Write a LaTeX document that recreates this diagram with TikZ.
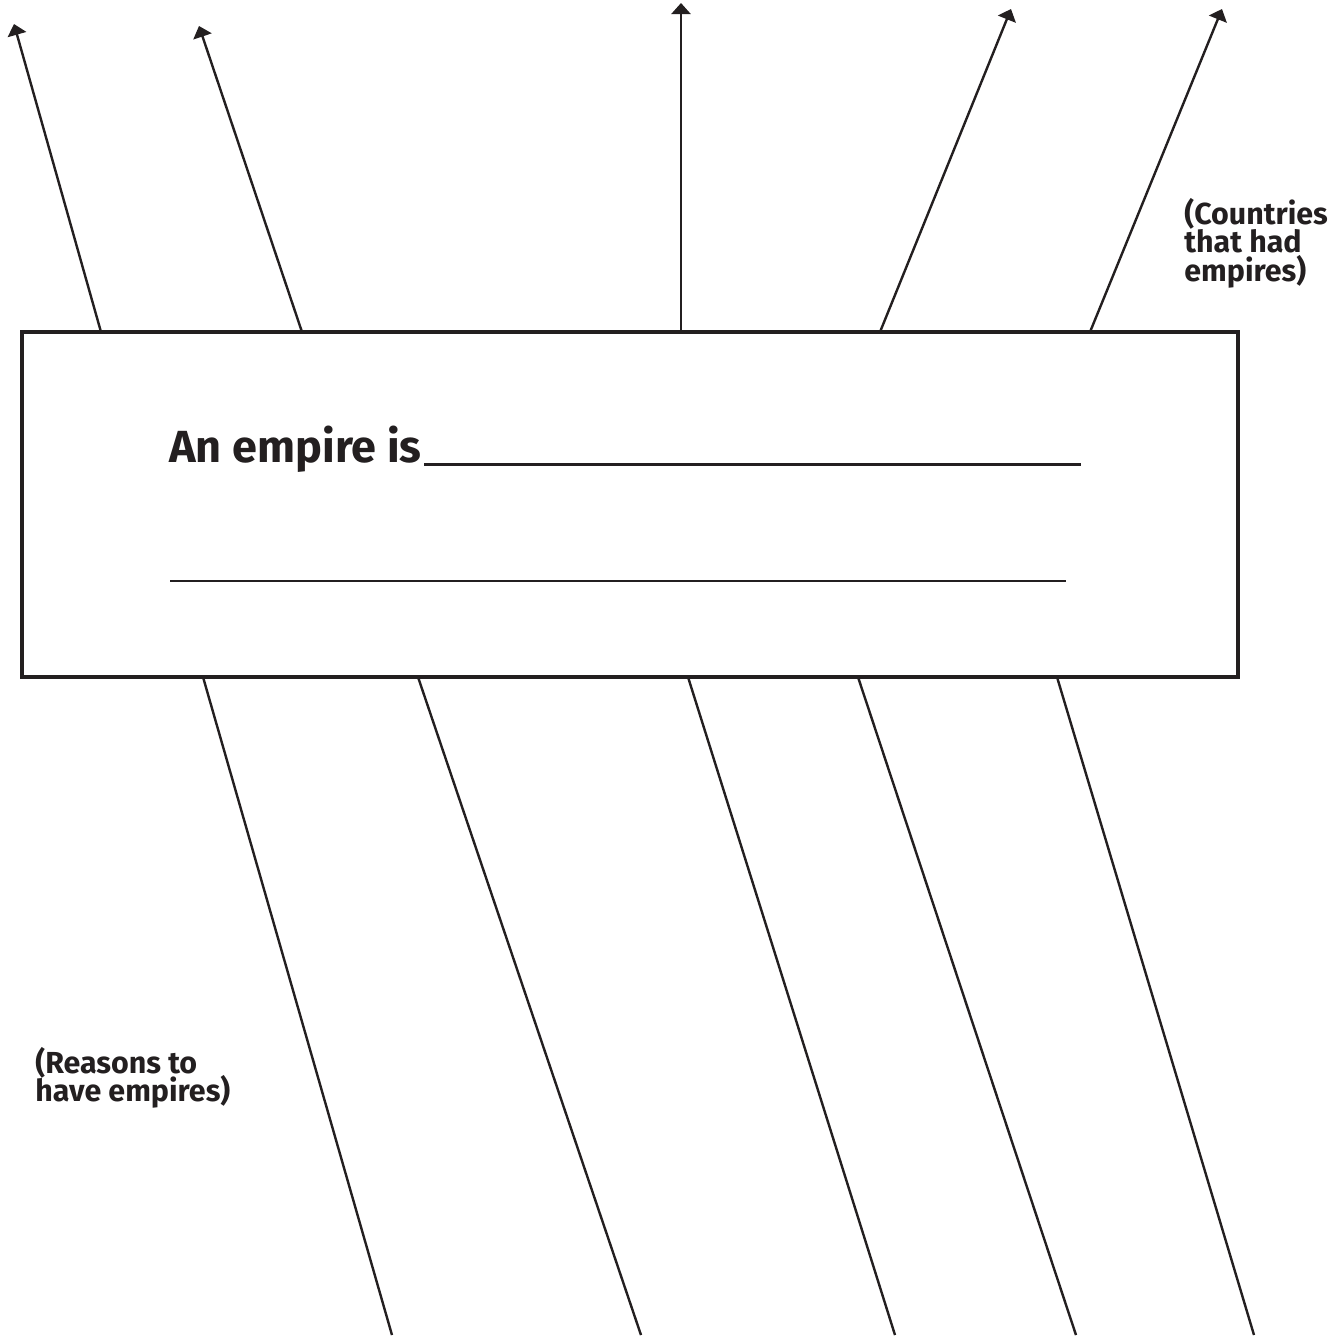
\documentclass[tikz,border=0pt]{standalone}
\usepackage{fontspec}
\setmainfont{Fira Sans}
\usetikzlibrary{arrows.meta}
\definecolor{ink}{HTML}{231F20}
\newcommand\labelfont{\bfseries\fontsize{15.2}{14.2}\selectfont\lineskiplimit=-100pt\relax}

\begin{document}
\begin{tikzpicture}[x=0.5pt,y=-0.5pt]
        \tikzset{
            frame/.style={draw=ink, line width=1.6pt, minimum width=608pt, minimum height=172.5pt, inner sep=0pt},
            c1/.style={-{Triangle[length=5.5pt,width=9.5pt]}, line width=1.2pt, ink},
            c2/.style={-, line width=1.2pt, ink},
            blank/.style={-, line width=1.2pt, ink},
            lbl/.style={align=left, anchor=north west, inner sep=0pt, text=ink, font=\labelfont}
            }
            \useasboundingbox (0,0) rectangle (1340,1335);

            \node[frame] (box) at (630,504.5) {};
            \node[anchor=base west, inner sep=0pt, text=ink, font=\bfseries\fontsize{22.5}{27}\selectfont] (def) at (169,462) {An empire is};
            \coordinate (u1) at (1081,464.5);
            \coordinate (u2a) at (170,581);
            \coordinate (u2b) at (1066,581);
            \draw[blank] (def.base east) ++(2,2.5) -- (u1);
            \draw[blank] (u2a) -- (u2b);

            % arrows above the box
            \coordinate (t1) at (101,332);   \coordinate (h1) at (14,24);
            \coordinate (t2) at (302,332);   \coordinate (h2) at (199,26);
            \coordinate (t3) at (681,332);   \coordinate (h3) at (681,3);
            \coordinate (t4) at (880,332);   \coordinate (h4) at (1011,9);
            \coordinate (t5) at (1090,332);  \coordinate (h5) at (1222,9);
            \draw[c1] (t1) -- (h1);
            \draw[c1] (t2) -- (h2);
            \draw[c1] (t3) -- (h3);
            \draw[c1] (t4) -- (h4);
            \draw[c1] (t5) -- (h5);

            % lines below the box
            \coordinate (b1) at (203,677);   \coordinate (e1) at (392,1335);
            \coordinate (b2) at (418,677);   \coordinate (e2) at (641,1335);
            \coordinate (b3) at (688,677);   \coordinate (e3) at (895,1335);
            \coordinate (b4) at (858,677);   \coordinate (e4) at (1076,1335);
            \coordinate (b5) at (1057,677);  \coordinate (e5) at (1254,1335);
            \draw[c2] (b1) -- (e1);
            \draw[c2] (b2) -- (e2);
            \draw[c2] (b3) -- (e3);
            \draw[c2] (b4) -- (e4);
            \draw[c2] (b5) -- (e5);

            \node[lbl] (countries) at (1184,198) {(Countries\\that had\\empires)};
            \node[lbl] (reasons) at (35,1047) {(Reasons to\\have empires)};
        \end{tikzpicture}
\end{document}
